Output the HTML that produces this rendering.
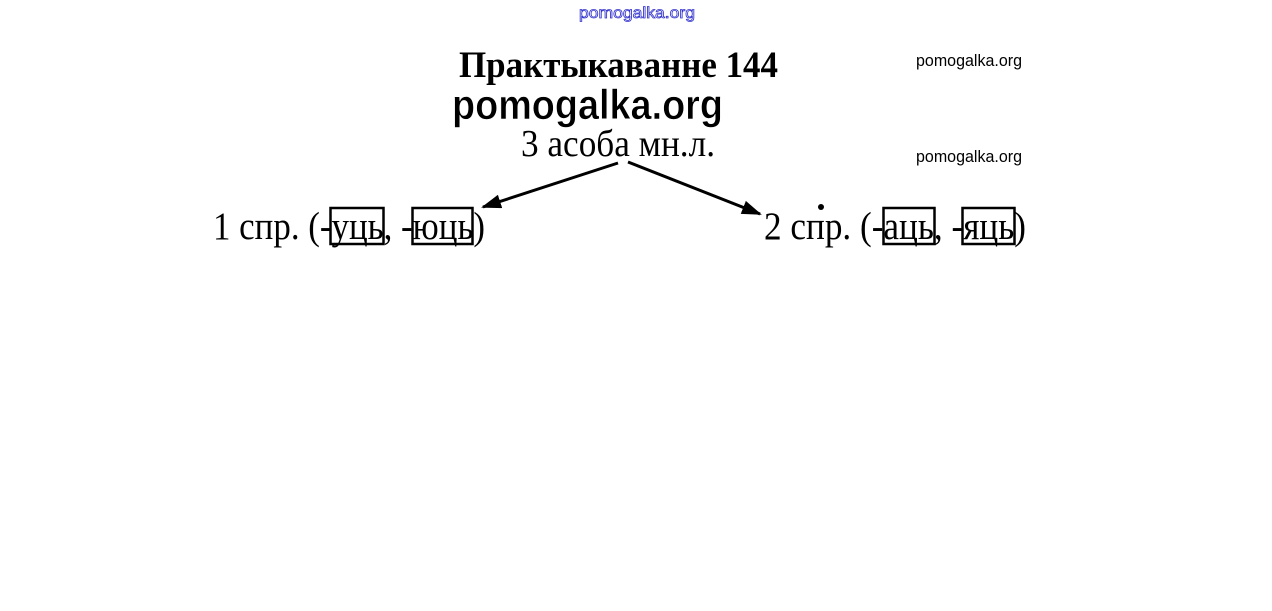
<!DOCTYPE html>
<html><head><meta charset="utf-8"><style>
html,body{margin:0;padding:0;background:#fff;width:1272px;height:611px;overflow:hidden}
svg{display:block}
</style></head><body>
<svg width="1272" height="611" xmlns="http://www.w3.org/2000/svg">
<defs>
<marker id="b" markerWidth="20" markerHeight="14" refX="18" refY="7" orient="auto" markerUnits="userSpaceOnUse"><path d="M0,0 L20,7 L0,14 z" fill="#000"/></marker></defs>
<text x="579" y="18" font-family="Liberation Sans, sans-serif" font-size="16" fill="#fff" stroke="#3333cc" stroke-width="0.8" textLength="116" lengthAdjust="spacingAndGlyphs">pomogalka.org</text>
<text x="459" y="77" font-family="Liberation Serif, serif" font-weight="bold" font-size="37" textLength="319" lengthAdjust="spacingAndGlyphs">Практыкаванне 144</text>
<text x="452" y="119" font-family="Liberation Sans, sans-serif" font-size="42" font-weight="bold" textLength="271" lengthAdjust="spacingAndGlyphs" stroke="#fff" stroke-width="0.6">pomogalka.org</text>
<text x="521" y="156" font-family="Liberation Serif, serif" font-size="38" textLength="194" lengthAdjust="spacingAndGlyphs">3 асоба мн.л.</text>
<text x="916" y="66" font-family="Liberation Sans, sans-serif" font-size="17" textLength="106" lengthAdjust="spacingAndGlyphs">pomogalka.org</text>
<text x="916" y="162" font-family="Liberation Sans, sans-serif" font-size="17" textLength="106" lengthAdjust="spacingAndGlyphs">pomogalka.org</text>
<line x1="618" y1="163" x2="483" y2="207" stroke="#000" stroke-width="3" marker-end="url(#b)"/>
<line x1="628" y1="162" x2="760" y2="214" stroke="#000" stroke-width="3" marker-end="url(#b)"/>
<circle cx="821" cy="207" r="3" fill="#000"/>
<text x="213" y="239" font-family="Liberation Serif, serif" font-size="39" textLength="272" lengthAdjust="spacingAndGlyphs">1 спр. (-уць, -юць)</text>
<rect x="330.5" y="208" width="53" height="36" fill="none" stroke="#000" stroke-width="2.5"/>
<rect x="412.5" y="208" width="60" height="36" fill="none" stroke="#000" stroke-width="2.5"/>
<text x="764" y="239" font-family="Liberation Serif, serif" font-size="39" textLength="262" lengthAdjust="spacingAndGlyphs">2 спр. (-аць, -яць)</text>
<rect x="883.5" y="208" width="51" height="36" fill="none" stroke="#000" stroke-width="2.5"/>
<rect x="962.5" y="208" width="52" height="36" fill="none" stroke="#000" stroke-width="2.5"/>
</svg>
</body></html>
